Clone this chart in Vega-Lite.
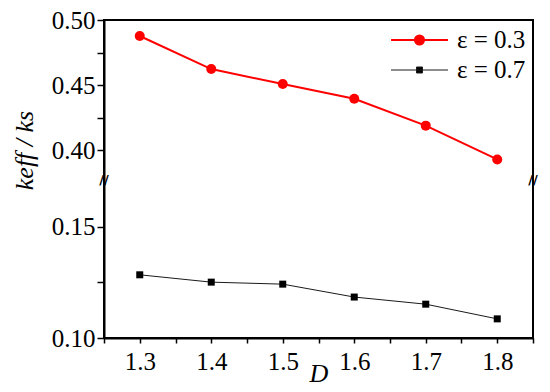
{
  "$schema": "https://vega.github.io/schema/vega-lite/v6.json",
  "width": 429,
  "height": 318,
  "autosize": {"type": "none"},
  "padding": {"left": 104, "top": 20, "right": 17, "bottom": 54},
  "background": "white",
  "datasets": {
    "main": [
      {"D": 1.3, "k": 0.4877, "series": "ε = 0.3"},
      {"D": 1.4, "k": 0.4623, "series": "ε = 0.3"},
      {"D": 1.5, "k": 0.4508, "series": "ε = 0.3"},
      {"D": 1.6, "k": 0.4395, "series": "ε = 0.3"},
      {"D": 1.7, "k": 0.4188, "series": "ε = 0.3"},
      {"D": 1.8, "k": 0.3928, "series": "ε = 0.3"},
      {"D": 1.3, "k": 0.1284, "series": "ε = 0.7"},
      {"D": 1.4, "k": 0.1251, "series": "ε = 0.7"},
      {"D": 1.5, "k": 0.1242, "series": "ε = 0.7"},
      {"D": 1.6, "k": 0.1184, "series": "ε = 0.7"},
      {"D": 1.7, "k": 0.1152, "series": "ε = 0.7"},
      {"D": 1.8, "k": 0.1086, "series": "ε = 0.7"}
    ],
    "breaks": [
      {"D": 1.25, "k": 0.27, "mark": "//"},
      {"D": 1.85, "k": 0.27, "mark": "//"}
    ]
  },
  "encoding": {
    "x": {
      "field": "D",
      "type": "quantitative",
      "scale": {"domain": [1.25, 1.85], "nice": false, "zero": false},
      "axis": {
        "title": "D",
        "values": [1.25, 1.3, 1.35, 1.4, 1.45, 1.5, 1.55, 1.6, 1.65, 1.7, 1.75, 1.8, 1.85],
        "labelExpr": "round(datum.value*100) % 10 == 0 ? format(datum.value, '.1f') : ''",
        "tickSize": 5,
        "tickColor": "black",
        "tickWidth": 1.5,
        "encode": {"ticks": {"update": {"y2": {"signal": "round(datum.value*100) % 10 == 0 ? 5 : 3"}}}},
        "labelPadding": 6,
        "titlePadding": -14,
        "labelOverlap": false
      }
    },
    "y": {
      "field": "k",
      "type": "quantitative",
      "scale": {"domain": [0.10, 0.171, 0.377, 0.50], "range": [318, 160, 160, 0], "nice": false, "zero": false},
      "axis": {
        "title": "keff / ks",
        "values": [0.1, 0.125, 0.15, 0.4, 0.425, 0.45, 0.475, 0.5],
        "labelExpr": "round(datum.value*1000) % 50 == 0 ? format(datum.value, '.2f') : ''",
        "tickSize": 7,
        "tickColor": "black",
        "tickWidth": 1.5,
        "encode": {"ticks": {"update": {"x2": {"signal": "round(datum.value*1000) % 50 == 0 ? -7 : -4"}}}},
        "labelPadding": 2,
        "labelOverlap": false,
        "titleAngle": -90,
        "titleX": -72,
        "titleY": 130,
        "titleAlign": "center",
        "titleBaseline": "alphabetic"
      }
    }
  },
  "layer": [
    {
      "data": {"name": "main"},
      "transform": [{"filter": "datum.series == 'ε = 0.3'"}],
      "mark": {"type": "line", "color": "#ff0000", "strokeWidth": 2}
    },
    {
      "data": {"name": "main"},
      "transform": [{"filter": "datum.series == 'ε = 0.7'"}],
      "mark": {"type": "line", "color": "#1a1a1a", "strokeWidth": 1}
    },
    {
      "data": {"name": "main"},
      "transform": [{"filter": "datum.series == 'ε = 0.3'"}],
      "mark": {"type": "point", "filled": true, "opacity": 1, "shape": "circle", "size": 100, "color": "#ff0000"}
    },
    {
      "data": {"name": "main"},
      "transform": [{"filter": "datum.series == 'ε = 0.7'"}],
      "mark": {"type": "point", "filled": true, "opacity": 1, "shape": "square", "size": 49, "color": "#000000"}
    },
    {
      "data": {"name": "main"},
      "transform": [{"filter": "false"}],
      "mark": {"type": "point", "filled": true, "opacity": 1},
      "encoding": {
        "fill": {"field": "series", "type": "nominal", "scale": {"domain": ["ε = 0.3", "ε = 0.7"], "range": ["#ff0000", "#000000"]},
          "legend": {"title": null, "orient": "none", "legendX": 286, "legendY": 5, "symbolSize": 3249, "clipHeight": 30, "labelFont": "Liberation Serif", "labelFontSize": 25, "labelColor": "black", "labelOffset": 8, "padding": 0, "rowPadding": 0, "symbolOpacity": 1}},
        "stroke": {"field": "series", "type": "nominal", "scale": {"domain": ["ε = 0.3", "ε = 0.7"], "range": ["#ff0000", "#1a1a1a"]},
          "legend": {"title": null, "orient": "none", "legendX": 286, "legendY": 5, "symbolSize": 3249, "clipHeight": 30, "labelFont": "Liberation Serif", "labelFontSize": 25, "labelColor": "black", "labelOffset": 8, "padding": 0, "rowPadding": 0, "symbolOpacity": 1}},
        "shape": {"field": "series", "type": "nominal", "scale": {"domain": ["ε = 0.3", "ε = 0.7"], "range": ["M-1,0H1M0.16,0A0.16,0.16,0,1,1,-0.16,0A0.16,0.16,0,1,1,0.16,0Z", "M-1,0H1M-0.105,-0.105H0.105V0.105H-0.105Z"]},
          "legend": {"title": null, "orient": "none", "legendX": 286, "legendY": 5, "symbolSize": 3249, "clipHeight": 30, "labelFont": "Liberation Serif", "labelFontSize": 25, "labelColor": "black", "labelOffset": 8, "padding": 0, "rowPadding": 0, "symbolOpacity": 1}},
        "strokeWidth": {"field": "series", "type": "nominal", "scale": {"domain": ["ε = 0.3", "ε = 0.7"], "range": [2, 1]},
          "legend": {"title": null, "orient": "none", "legendX": 286, "legendY": 5, "symbolSize": 3249, "clipHeight": 30, "labelFont": "Liberation Serif", "labelFontSize": 25, "labelColor": "black", "labelOffset": 8, "padding": 0, "rowPadding": 0, "symbolOpacity": 1}}
      }
    },
    {
      "data": {"name": "breaks"},
      "mark": {"type": "text", "font": "DejaVu Sans", "fontSize": 13, "color": "black", "align": "center", "baseline": "middle", "fontWeight": "bold"},
      "encoding": {"text": {"field": "mark"}}
    }
  ],
  "config": {
    "view": {"stroke": "black", "strokeWidth": 2},
    "axis": {
      "grid": false,
      "domainColor": "black",
      "domainWidth": 2,
      "labelFont": "Liberation Serif",
      "labelFontSize": 25,
      "labelColor": "black",
      "titleFont": "Liberation Serif",
      "titleFontSize": 26,
      "titleFontStyle": "italic",
      "titleFontWeight": "normal",
      "titleColor": "black"
    }
  }
}
